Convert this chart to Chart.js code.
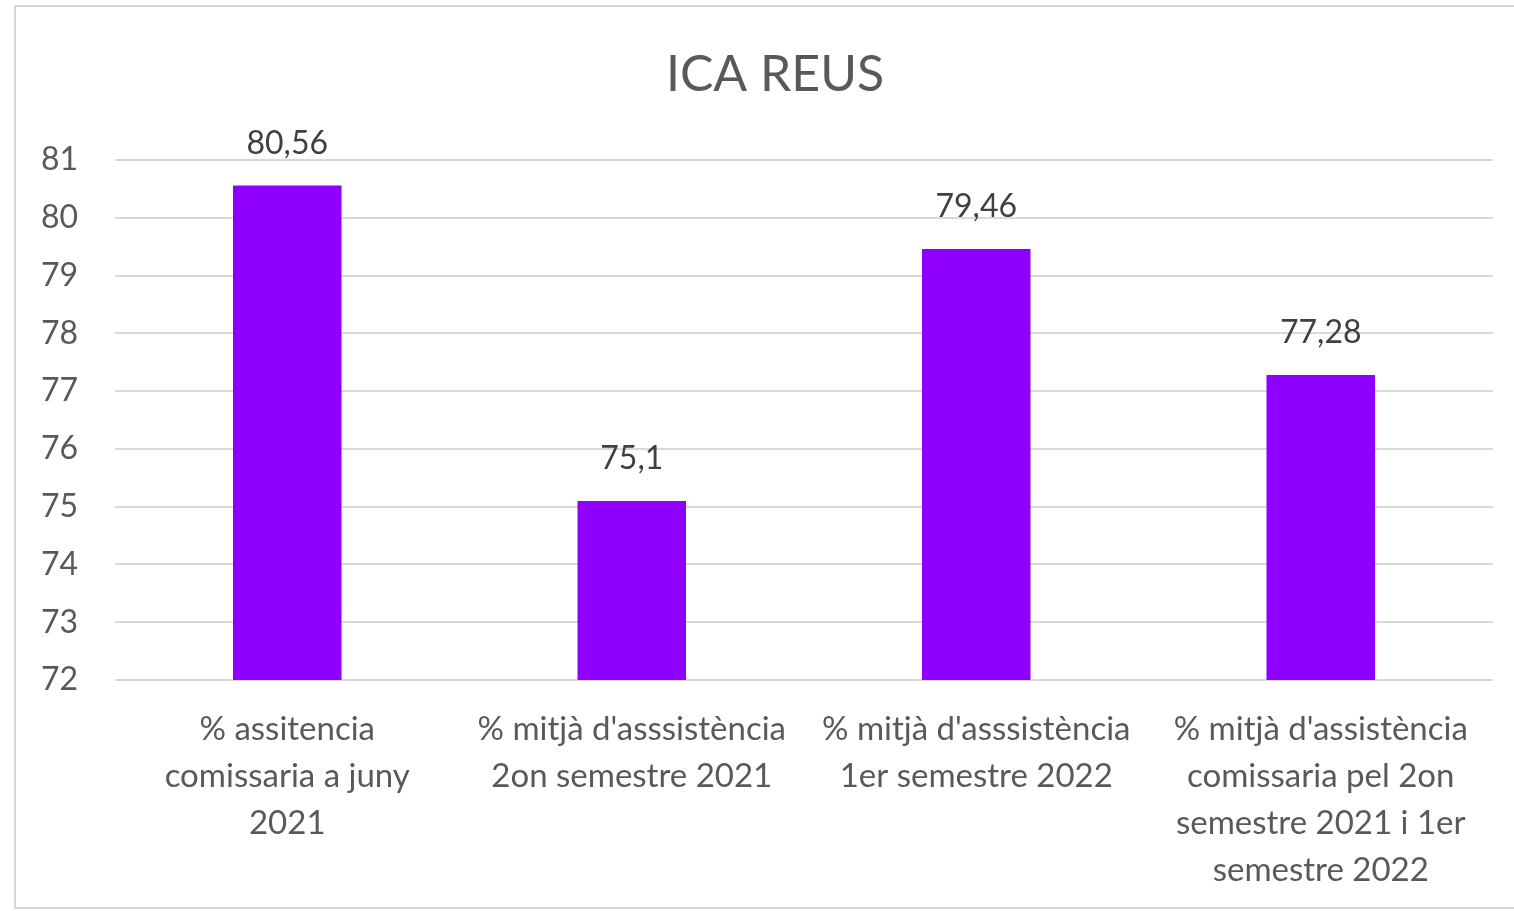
<!DOCTYPE html>
<html>
<head>
<meta charset="utf-8">
<script src="https://cdn.jsdelivr.net/npm/chart.js@4"></script>
<style>
  html, body { margin: 0; padding: 0; background: #fff; }
  #frame { position: absolute; left: 14px; top: 5px; width: 1510px; height: 904px; border: 2px solid #d9d9d9; box-sizing: border-box; }
  #wrap { position: absolute; left: 0; top: 0; width: 1514px; height: 911px; }
</style>
</head>
<body>
<div id="frame"></div>
<div id="wrap"><canvas id="myChart"></canvas></div>
<script>
const chartTitle = 'ICA REUS';
const categories = [
    ['% assitencia', 'comissaria a juny', '2021'],
    ["% mitjà d'asssistència", '2on semestre 2021'],
    ["% mitjà d'asssistència", '1er semestre 2022'],
    ["% mitjà d'assistència", 'comissaria pel 2on', 'semestre 2021 i 1er', 'semestre 2022']
];
const values = [80.56, 75.1, 79.46, 77.28];
const yMin = 72;
const yMax = 81;

const fontFamily = 'Lato, "Open Sans", sans-serif';

// labels above the bars, decimal comma like the original
const barLabels = {
    id: 'barLabels',
    afterDatasetsDraw(chart) {
        const c = chart.ctx;
        const meta = chart.getDatasetMeta(0);
        c.save();
        c.font = '32px ' + fontFamily;
        c.fillStyle = '#404040';
        c.textAlign = 'center';
        c.textBaseline = 'middle';
        meta.data.forEach((bar, i) => {
            c.fillText(String(values[i]).replace('.', ','), bar.x, bar.y - 42);
        });
        c.restore();
    }
};

// title sits a bit left of the plot centre in the original
const titleText = {
    id: 'titleText',
    afterDraw(chart) {
        const c = chart.ctx;
        const area = chart.chartArea;
        c.save();
        c.font = '50px ' + fontFamily;
        c.fillStyle = '#595959';
        c.textAlign = 'center';
        c.textBaseline = 'middle';
        c.fillText(chartTitle, (area.left + area.right) / 2 - 29, 75);
        c.restore();
    }
};

const ctx = document.getElementById('myChart');
new Chart(ctx, {
    type: 'bar',
    data: {
        labels: categories,
        datasets: [{
            label: chartTitle,
            data: values,
            backgroundColor: '#8F00FF',
            borderWidth: 0,
            categoryPercentage: 1,
            barPercentage: 0.315
        }]
    },
    options: {
        responsive: true,
        maintainAspectRatio: false,
        animation: false,
        layout: { padding: { left: 0, right: 21, top: 160, bottom: 0 } },
        plugins: {
            legend: { display: false },
            tooltip: { enabled: false },
            title: { display: false }
        },
        scales: {
            x: {
                grid: { display: false, drawTicks: false },
                border: { display: false },
                ticks: {
                    color: '#595959',
                    padding: 26,
                    maxRotation: 0,
                    autoSkip: false,
                    font: { family: fontFamily, size: 33, lineHeight: 1.42 }
                },
                afterFit(scale) { scale.height = 231; }
            },
            y: {
                min: yMin,
                max: yMax,
                grid: { color: '#d9d9d9', lineWidth: 2, drawTicks: false },
                border: { display: false },
                ticks: {
                    stepSize: 1,
                    color: '#595959',
                    padding: 37,
                    font: { family: fontFamily, size: 32 }
                },
                afterFit(scale) { scale.width = 115; }
            }
        }
    },
    plugins: [barLabels, titleText]
});
</script>
</body>
</html>
